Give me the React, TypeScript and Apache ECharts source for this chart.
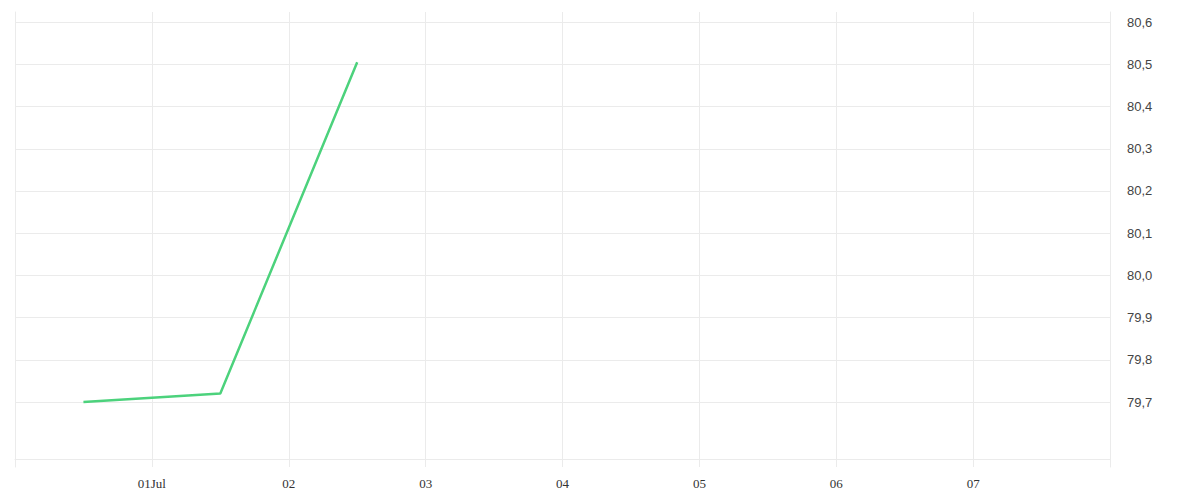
import { useEffect, useRef } from "react";
import * as echarts from "echarts";

const dates = ["2024-06-30T12:00:00", "2024-07-01T12:00:00", "2024-07-02T12:00:00"];
const values = [79.7, 79.72, 80.505];
const yTicks = [79.7, 79.8, 79.9, 80.0, 80.1, 80.2, 80.3, 80.4, 80.5, 80.6];
const xStart = "2024-06-30T00:00:00";
const xEnd = "2024-07-08T00:00:00";

const DAY = 24 * 3600 * 1000;

export default function App() {
  const reference = useRef<HTMLDivElement>(null);
  useEffect(() => {
    document.body.style.margin = "0";
    const element = reference.current;
    if (element === null) return;
    const chart = echarts.init(element, undefined, { renderer: "svg" });
    const xMin = new Date(xStart).getTime();
    const xMax = new Date(xEnd).getTime();
    chart.setOption({
      animation: false,
      grid: { left: 15, right: 90, top: 12, bottom: 33 },
      xAxis: {
        type: "time",
        min: xMin,
        max: xMax,
        minInterval: DAY,
        maxInterval: DAY,
        offset: -8,
        axisLine: { show: true, lineStyle: { color: "#ebebeb", width: 1 } },
        axisTick: { show: false },
        splitLine: { show: true, lineStyle: { color: "#ebebeb", width: 1 } },
        axisLabel: {
          margin: 18,
          color: "#333",
          fontFamily: "Liberation Serif",
          fontSize: 13,
          formatter: (value: number) => {
            if (value <= xMin || value >= xMax) return "";
            const date = new Date(value);
            const day = String(date.getDate()).padStart(2, "0");
            return date.getDate() === 1 ? `${day}Jul` : day;
          },
        },
      },
      yAxis: [
        {
          type: "value",
          position: "right",
          min: 79.546,
          max: 80.624,
          axisLine: { show: true, lineStyle: { color: "#ebebeb", width: 1 } },
          axisTick: { show: false, customValues: yTicks },
          splitLine: { show: true, lineStyle: { color: "#ebebeb", width: 1 } },
          axisLabel: {
            customValues: yTicks,
            margin: 17,
            color: "#444",
            fontFamily: "Liberation Sans",
            fontSize: 13,
            formatter: (value: number) => value.toFixed(1).replace(".", ","),
          },
        },
        {
          type: "value",
          position: "left",
          min: 79.546,
          max: 80.624,
          axisLine: { show: true, lineStyle: { color: "#ebebeb", width: 1 } },
          axisTick: { show: false },
          splitLine: { show: false },
          axisLabel: { show: false },
        },
      ],
      series: [
        {
          type: "line",
          yAxisIndex: 0,
          showSymbol: false,
          lineStyle: { color: "#4cd27c", width: 2.5 },
          data: dates.map((d, i) => [new Date(d).getTime(), values[i]]),
        },
      ],
    });
    return () => chart.dispose();
  }, []);
  return <div ref={reference} style={{ width: 1200, height: 500 }} />;
}
